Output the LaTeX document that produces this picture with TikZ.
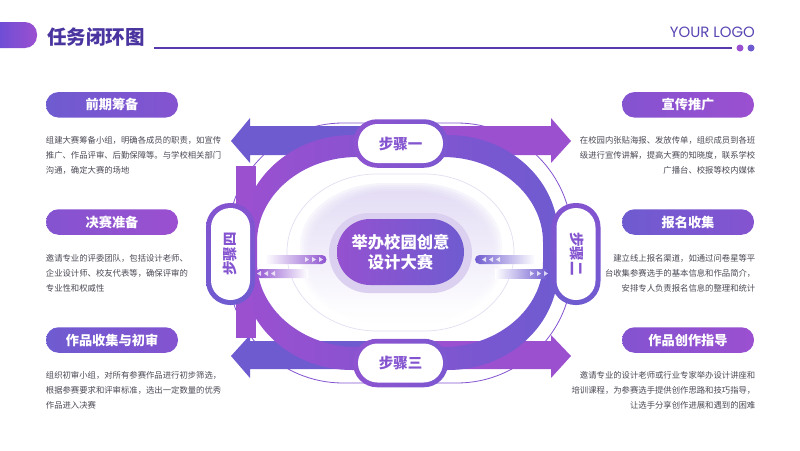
\documentclass[tikz,border=0pt]{standalone}
\usepackage{fontspec}
\setmainfont{Noto Sans CJK SC}
\newfontfamily\logofont{Poppins}
\definecolor{vblue}{HTML}{6F5BD0}
\definecolor{vpurp}{HTML}{9B50D0}
\definecolor{vmid}{HTML}{8453D0}
\definecolor{vdark}{HTML}{4A34A0}
\definecolor{vtext}{HTML}{4A4A55}
\definecolor{vhalo}{HTML}{DCD0F0}
\definecolor{vline}{HTML}{E4DEF2}
\definecolor{vblob}{HTML}{E2DAF5}
\newcommand{\ovalp}[6]{({#1+#5},#2) -- ({#3-#5},#2) .. controls ({#3-.45*#5},#2) and (#3,{#2+.45*#6}) .. (#3,{#2+#6}) -- (#3,{#4-#6}) .. controls (#3,{#4-.45*#6}) and ({#3-.45*#5},#4) .. ({#3-#5},#4) -- ({#1+#5},#4) .. controls ({#1+.45*#5},#4) and (#1,{#4-.45*#6}) .. (#1,{#4-#6}) -- (#1,{#2+#6}) .. controls (#1,{#2+.45*#6}) and ({#1+.45*#5},#2) .. ({#1+#5},#2) -- cycle}
\tikzset{
  label pill/.style={rounded corners=12.5pt,minimum width=132pt,minimum height=25.5pt,inner sep=0pt,text=white,font=\fontsize{13.2}{15}\selectfont\bfseries},
  blue pill/.style={label pill,left color=vblue,right color=vmid},
  purp pill/.style={label pill,left color=vmid,right color=vpurp},
  desc/.style={inner sep=0pt,text=vtext,font=\fontsize{8.35}{10}\selectfont},
  dleft/.style={desc,anchor=west},
  dright/.style={desc,anchor=east},
  step text/.style={inner sep=0pt,text=vmid,font=\fontsize{14.5}{16}\selectfont\bfseries},
  hring/.style={rounded corners=24pt,minimum width=95pt,minimum height=48.5pt,inner sep=0pt,left color=vpurp!70!vblue,right color=vblue!70!vpurp},
  hwhite/.style={rounded corners=19.5pt,fill=white,minimum width=85pt,minimum height=39pt,inner sep=0pt},
  vring/.style={rounded corners=24pt,minimum width=49pt,minimum height=102pt,inner sep=0pt,top color=vmid,bottom color=vblue},
  vwhite/.style={rounded corners=19.5pt,fill=white,minimum width=39pt,minimum height=92pt,inner sep=0pt},
  chev/.style={fill=white,opacity=.75}
}
\begin{document}
\begin{tikzpicture}[x=1pt,y=-1pt]
\useasboundingbox (0,0) rectangle (800,450);
\fill[white] (0,0) rectangle (800,450);
% header
\path[left color=vblue!85!blue,right color=vpurp] (-14,22) [rounded corners=12pt] -- (37,22) -- (37,48) -- (-14,48) [sharp corners] -- cycle;
\node[inner sep=0pt,text=vdark,anchor=west,font=\fontsize{19.5}{22}\selectfont\bfseries] (title) at (47,37) {任务闭环图};
\coordinate (ruleL) at (154,48);
\coordinate (ruleR) at (732,48);
\draw[vdark!80!vpurp,line width=1.3pt] (ruleL) -- (ruleR);
\fill[vpurp] (740,48) circle (3.5);
\fill[vblue] (751,48) circle (3.5);
\node[inner sep=0pt,anchor=east,text=vdark!60!vblue,font=\fontsize{14.9}{16}\logofont] (logo) at (755,32) {YOUR LOGO};
% thin outer ring
\draw[vmid,line width=.8pt] \ovalp{228}{123}{572}{383}{115}{115};
% arrows
\fill[vblue] (231,141) -- (250,118) -- (250,126) -- (400,126) -- (400,155) -- (250,155) -- (250,163) -- cycle;
\fill[vpurp] (571,141) -- (551,118) -- (551,126) -- (400,126) -- (400,155) -- (551,155) -- (551,163) -- cycle;
\fill[vblue] (231,356) -- (250,335) -- (250,341) -- (400,341) -- (400,369) -- (250,369) -- (250,378) -- cycle;
\fill[vpurp] (571,356) -- (551,335) -- (551,341) -- (400,341) -- (400,369) -- (551,369) -- (551,378) -- cycle;
% left bar
\fill[vpurp] (236,166) rectangle (256,338);
% thick ring
\path[even odd rule,left color=vpurp,right color=vblue,middle color=vmid]
  \ovalp{242}{135}{558}{370}{110}{100} \ovalp{257}{157}{543}{347}{100}{85};
% interior
\foreach \d/\o in {0/.3,2/.3,4/.35,6/.4,8/.45}{
  \path[top color=vblob,bottom color=white,opacity=\o] \ovalp{300+\d}{183+\d}{502-\d}{324-\d}{85}{62};
}
\draw[vline,line width=.7pt] \ovalp{287}{174}{514}{331}{90}{78};
\fill[vhalo] \ovalp{329}{213}{472}{293}{40}{40};
\node[inner sep=0pt,minimum width=127pt,minimum height=66pt,rounded corners=33pt,left color=vpurp!85!vblue,right color=vblue,text=white,align=center,font=\fontsize{16.3}{20.5}\selectfont\bfseries] (hub) at (400.5,252) {举办校园创意\\设计大赛};
% flow strips
\path[left color=white,right color=vpurp!70!vblue] (265,255) -- (322,255) arc[start angle=-90,end angle=90,radius=4.5] -- (265,264) -- cycle;
\path[left color=vpurp!75!vblue,right color=white] (308,269) -- (260,269) arc[start angle=-90,end angle=-270,radius=4.5] -- (308,278) -- cycle;
\path[left color=vblue,right color=white] (535,255) -- (479.5,255) arc[start angle=-90,end angle=-270,radius=4.5] -- (535,264) -- cycle;
\path[left color=white,right color=vblue] (495,269) -- (547,269) -- (547,278) -- (495,278) -- cycle;
\foreach \x in {305,312,319}{\fill[chev] (\x,257) -- (\x+4,259.5) -- (\x,262) -- cycle;}
\foreach \x in {261,268,275}{\fill[chev] (\x,271) -- (\x-4,273.5) -- (\x,276) -- cycle;}
\foreach \x in {486,493,500}{\fill[chev] (\x,257) -- (\x-4,259.5) -- (\x,262) -- cycle;}
\foreach \x in {530,537,544}{\fill[chev] (\x,271) -- (\x+4,273.5) -- (\x,276) -- cycle;}
% step pills
\node[hring] (s1o) at (400.5,143.5) {};
\node[hwhite] (s1) at (400.5,143.5) {};
\node[step text] (s1t) at (400.5,143.5) {步骤一};
\node[hring] (s3o) at (400.5,363) {};
\node[hwhite] (s3) at (400.5,363) {};
\node[step text] (s3t) at (400.5,363) {步骤三};
\node[vring] (s4o) at (230.5,254) {};
\node[vwhite] (s4) at (230.5,254) {};
\node[step text,rotate=90] (s4t) at (230,254) {步骤四};
\node[vring] (s2o) at (576,254) {};
\node[vwhite] (s2) at (576,254) {};
\node[step text,rotate=-90] (s2t) at (577,254) {步骤二};
% left labels
\node[blue pill] (l1) at (112,104.8) {前期筹备};
\node[purp pill] (l2) at (112,222) {决赛准备};
\node[blue pill] (l3) at (112,340) {作品收集与初审};
\node[dleft] (l1a) at (45.7,140) {组建大赛筹备小组，明确各成员的职责，如宣传};
\node[dleft] (l1b) at (45.7,155) {推广、作品评审、后勤保障等。与学校相关部门};
\node[dleft] (l1c) at (45.7,170) {沟通，确定大赛的场地};
\node[dleft] (l2a) at (45.7,258) {邀请专业的评委团队，包括设计老师、};
\node[dleft] (l2b) at (45.7,273) {企业设计师、校友代表等，确保评审的};
\node[dleft] (l2c) at (45.7,288) {专业性和权威性};
\node[dleft] (l3a) at (45.7,375) {组织初审小组，对所有参赛作品进行初步筛选，};
\node[dleft] (l3b) at (45.7,390) {根据参赛要求和评审标准，选出一定数量的优秀};
\node[dleft] (l3c) at (45.7,405) {作品进入决赛};
% right labels
\node[purp pill] (r1) at (688,104.8) {宣传推广};
\node[blue pill] (r2) at (688,222) {报名收集};
\node[purp pill] (r3) at (688,340) {作品创作指导};
\node[dright] (r1a) at (755.5,140) {在校园内张贴海报、发放传单，组织成员到各班};
\node[dright] (r1b) at (755.5,155) {级进行宣传讲解，提高大赛的知晓度，联系学校};
\node[dright] (r1c) at (755.5,170) {广播台、校报等校内媒体};
\node[dright] (r2a) at (755.5,258) {建立线上报名渠道，如通过问卷星等平};
\node[dright] (r2b) at (755.5,273) {台收集参赛选手的基本信息和作品简介，};
\node[dright] (r2c) at (755.5,288) {安排专人负责报名信息的整理和统计};
\node[dright] (r3a) at (755.5,375) {邀请专业的设计老师或行业专家举办设计讲座和};
\node[dright] (r3b) at (755.5,390) {培训课程，为参赛选手提供创作思路和技巧指导，};
\node[dright] (r3c) at (755.5,405) {让选手分享创作进展和遇到的困难};
\end{tikzpicture}
\end{document}
